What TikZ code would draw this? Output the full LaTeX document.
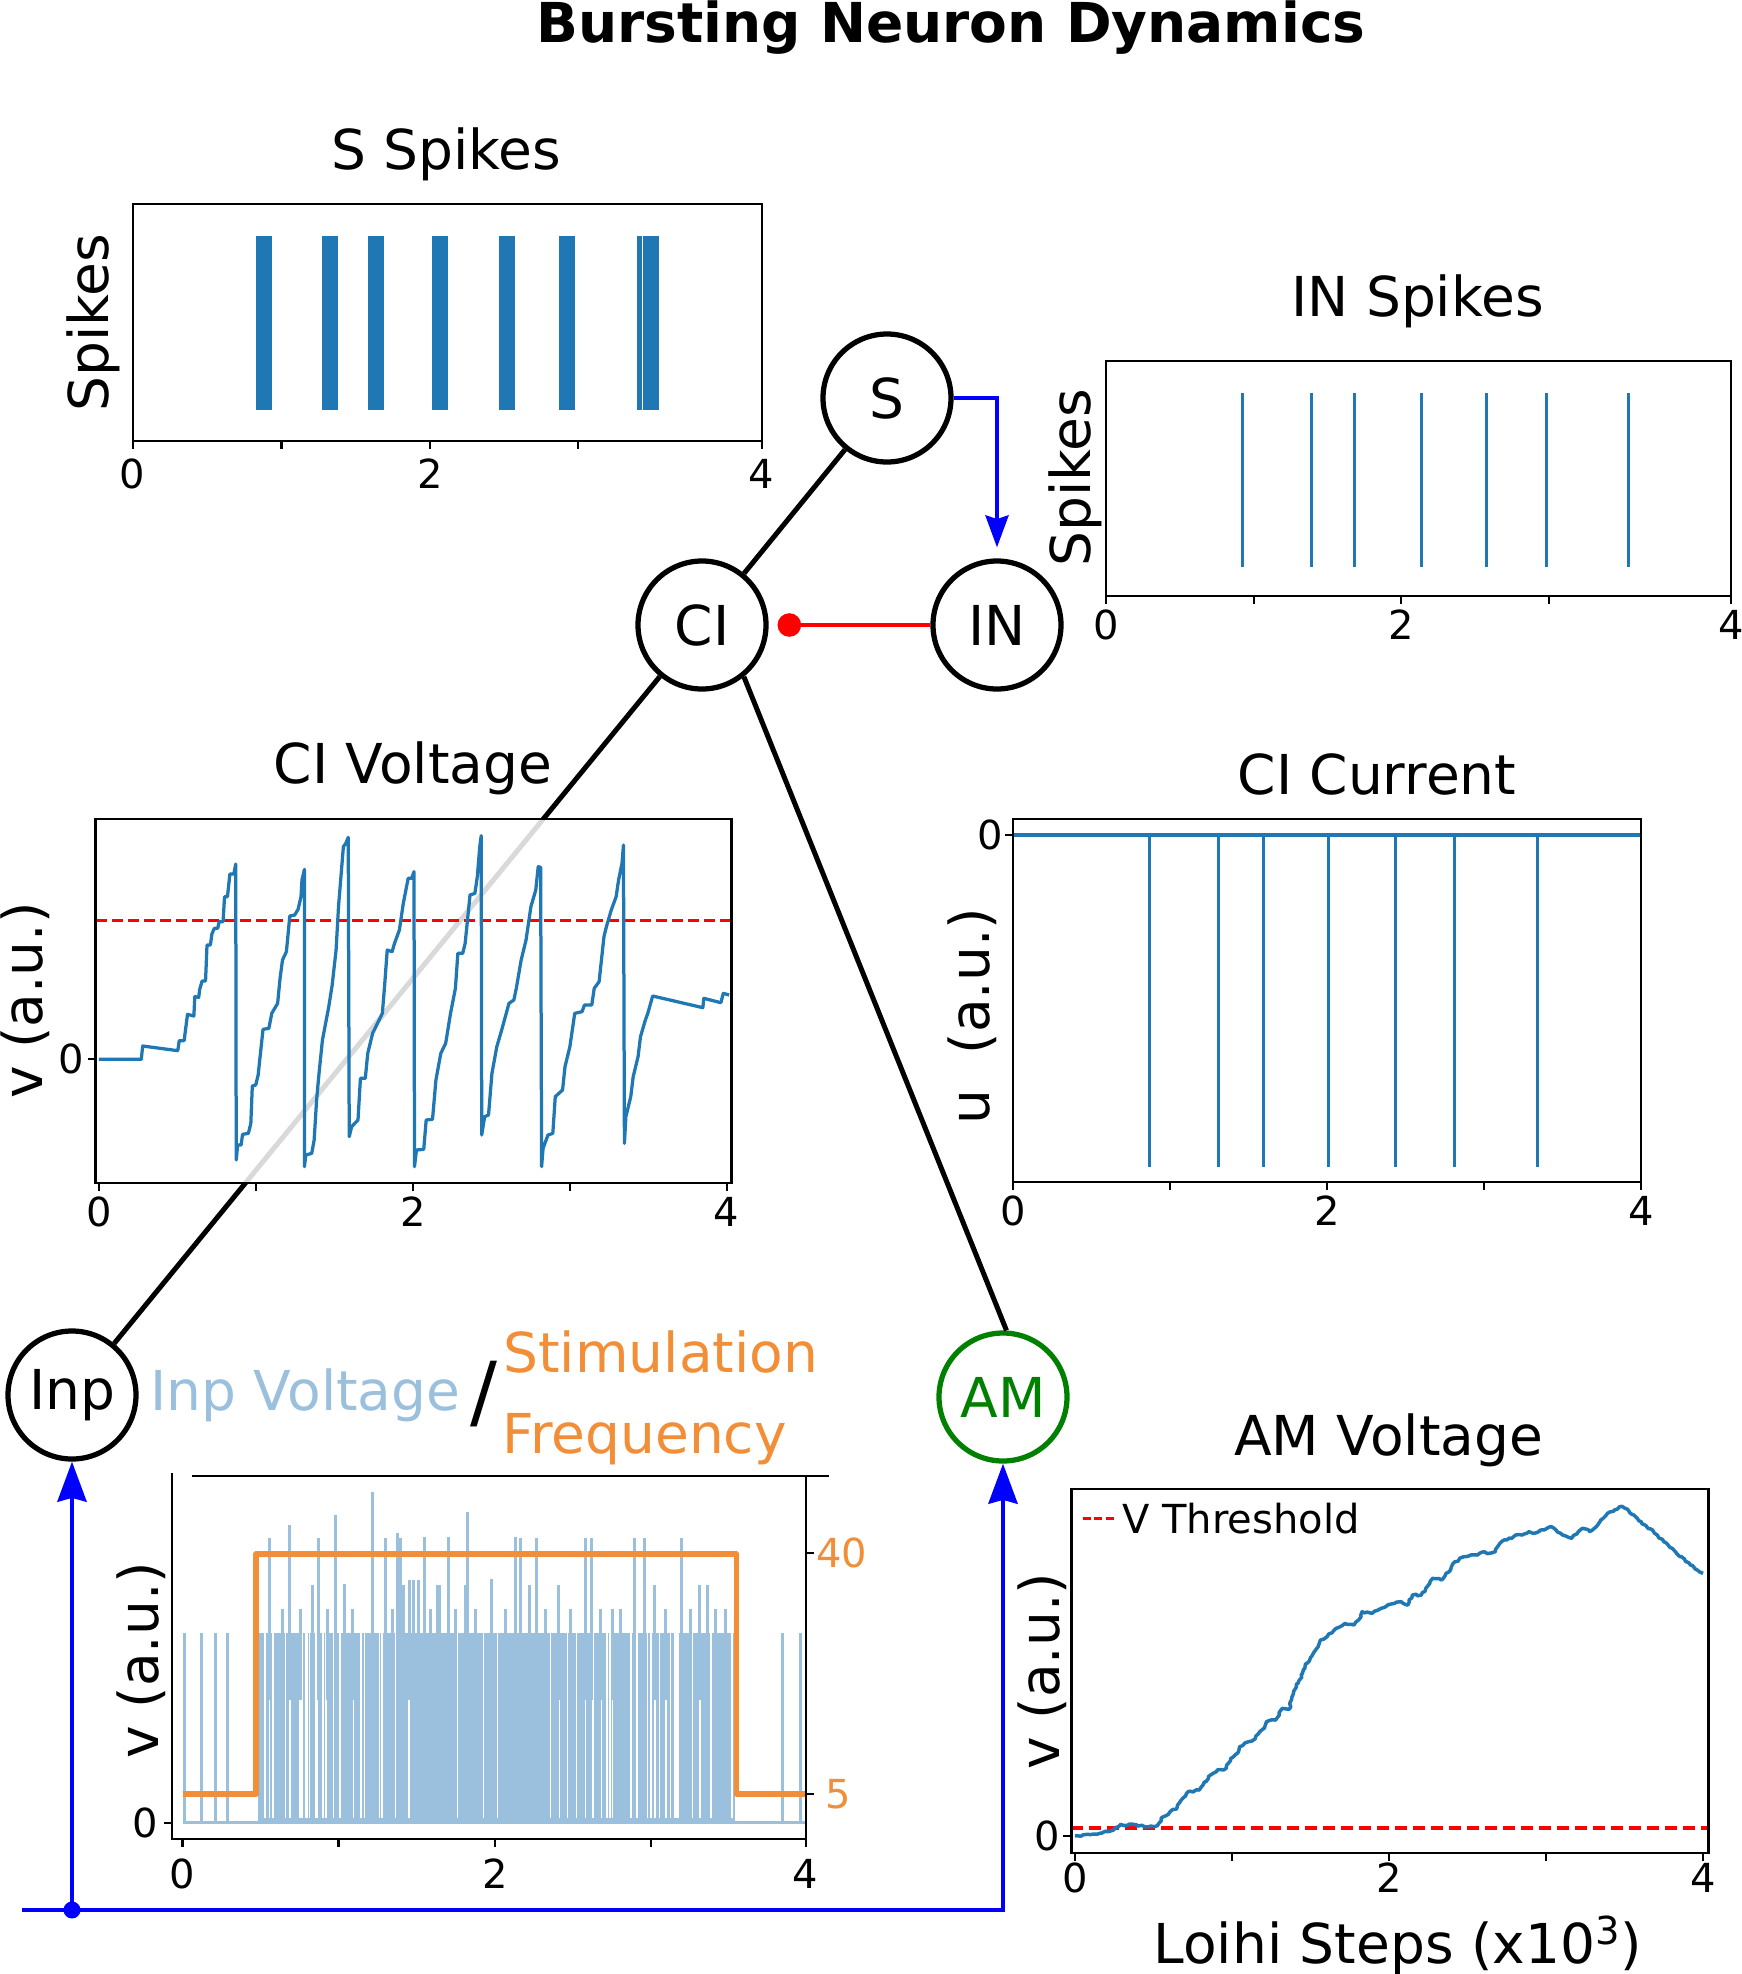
\documentclass[tikz,border=0pt]{standalone}
\usepackage{fontspec}
\setmainfont{DejaVu Sans}
\usetikzlibrary{arrows.meta,decorations.pathmorphing}
\definecolor{tabblue}{RGB}{31,119,180}
\definecolor{lightblue}{RGB}{154,192,221}
\definecolor{taborange}{RGB}{242,142,55}
\definecolor{amgreen}{RGB}{0,128,0}
\begin{document}
\begin{tikzpicture}[x=0.4pt,y=-0.4pt,
  neuron/.style={circle,draw,line width=2.1pt,fill=white,minimum size=51.2pt,inner sep=0pt,font=\fontsize{22}{26}\selectfont},
  spine/.style={line width=0.9pt},
  tickmark/.style={line width=0.9pt},
  ticklab/.style={font=\fontsize{16}{19}\selectfont,inner sep=0pt,anchor=base},
  ytlab/.style={font=\fontsize{16}{19}\selectfont,inner sep=0pt,anchor=east},
  ylab/.style={font=\fontsize{22}{26}\selectfont,rotate=90,inner sep=0pt,anchor=base},
  ptitle/.style={font=\fontsize{22}{26}\selectfont,inner sep=0pt,anchor=base},
  trace/.style={tabblue,line width=1.3pt,line join=round},
  wire/.style={line width=2pt},
  bluewire/.style={blue,line width=1.8pt},
  thresh/.style={red,line width=1.3pt,dash pattern=on 4.4pt off 2pt},
  bgpatch/.style={fill=white,fill opacity=0.85}
]
\useasboundingbox (0,0) rectangle (1741,1974);
\clip (0,0) rectangle (1741,1974);

% ---------- title
\node[font=\bfseries\fontsize{22}{26}\selectfont,inner sep=0pt,anchor=base] (title) at (951,42) {Bursting Neuron Dynamics};

% ---------- neurons
\node[neuron] (S) at (887,398) {S};
\node[neuron] (CI) at (702,625) {CI};
\node[neuron] (IN) at (997,625) {IN};
\node[neuron] (Inp) at (72,1395) {Inp};
\node[neuron,draw=amgreen,text=amgreen] (AM) at (1003,1397) {AM};

% ---------- connectors
\draw[wire] (S) -- (CI);
\draw[wire] (CI) -- (Inp);
\draw[wire] (CI.-51) -- (AM.87);
\draw[blue,line width=1.6pt,-{Stealth[length=12.8pt,width=9.2pt,inset=1.5pt]},shorten >=4.4pt] (S.east) -| (IN.north);
\draw[red,line width=1.9pt,-{Circle[length=9.4pt]},shorten >=3.6pt] (IN.west) -- (CI.east);
\coordinate (src) at (22,1910);
\coordinate (jn) at (72,1910);
\draw[bluewire,-{Stealth[length=16pt,width=11.6pt,inset=1.5pt]}] (src) -| (AM.south);
\draw[bluewire,-{Stealth[length=16pt,width=11.6pt,inset=1.5pt]}] (jn) -- (Inp.south);
\fill[blue] (jn) circle (3.4pt);

% ================= S Spikes
\node[ptitle] (tS) at (446,169) {S Spikes};
\node[ylab] (ylS) at (108.8,322.5) {Spikes};
\foreach \c in {263.5,330.3,375.5,440,507,566.5,650.5}
  \fill[tabblue] (\c-8,236) rectangle (\c+8,410);
\fill[tabblue] (637,236) rectangle (642,410);
\draw[spine] (132.7,204) rectangle (761.7,441);
\foreach \x in {132.7,281.6,430,578,761.7} \draw[tickmark] (\x,441) -- (\x,449);
\foreach \x/\l in {132.7/0,430/2,761.7/4} \node[ticklab] (sx\l) at (\x,488.5) {\l};

% ================= IN Spikes
\node[ptitle] (tIN) at (1417.5,316) {IN Spikes};
\node[ylab] (ylIN) at (1090.7,478) {Spikes};
\foreach \c in {1242,1311,1354,1421,1486,1546,1628}
  \draw[tabblue,line width=1.2pt] (\c,393) -- (\c,566.5);
\draw[spine] (1105.8,361) rectangle (1731.3,596);
\foreach \x in {1105.8,1254,1401.3,1548.7,1731.3} \draw[tickmark] (\x,596) -- (\x,604);
\foreach \x/\l in {1105.8/0,1401.3/2,1731.3/4} \node[ticklab] (ix\l) at (\x,639.5) {\l};

% ================= CI Voltage
\node[ptitle] (tCV) at (413,783) {CI Voltage};
\node[ylab] (ylCV) at (42.9,1000.5) {v (a.u.)};
\fill[bgpatch] (95.5,819.3) rectangle (731.6,1182.7);
\draw[thresh] (95.5,920.3) -- (731.6,920.3);
\begin{scope}[shift={(0,780)},x=0.19483pt,y=-0.133333pt]
\draw[trace] plot coordinates {(203,838) (290,838) (293,798) (365,812) (368,782) (378,782) (385,703) (398,708) (400,650) (408,652) (410,628) (415,603) (422,603) (425,495) (432,495) (435,462) (440,445) (447,445) (450,425) (458,425) (461,350) (467,350) (472,282) (480,282) (484,252) (485,1140)
(488,1095) (495,1095) (498,1063) (510,1060) (515,1030) (518,918) (525,915) (530,885) (540,748) (552,745) (558,700) (570,670) (575,595) (580,540) (588,515) (595,408) (605,405) (612,388) (618,350) (620,300) (625,268) (625,1160)
(628,1125) (640,1120) (645,1080) (650,960) (655,880) (662,780) (675,680) (682,615) (690,510) (695,380) (705,200) (710,190) (715,172) (717,1070)
(722,1040) (735,1020) (740,895) (750,895) (755,820) (765,760) (775,730) (785,700) (790,610) (795,510) (805,515) (810,490) (820,450) (828,370) (838,295) (845,295) (850,275) (851,1160)
(855,1110) (870,1108) (875,1020) (888,1018) (895,900) (905,820) (915,790) (925,700) (935,625) (940,520) (950,520) (955,490) (965,345) (975,340) (980,290) (985,200) (988,167) (989,1065)
(995,1010) (1003,1005) (1010,880) (1020,800) (1030,750) (1045,670) (1055,660) (1060,625) (1070,540) (1080,480) (1090,380) (1100,330) (1105,260) (1110,262) (1112,1160)
(1115,1105) (1125,1065) (1135,1060) (1140,950) (1155,930) (1160,860) (1170,800) (1180,700) (1195,695) (1200,675) (1215,675) (1220,625) (1230,605) (1240,470) (1245,440) (1255,390) (1265,350) (1270,300) (1277,250) (1280,195) (1282,1090)
(1285,1010) (1295,950) (1300,890) (1310,830) (1315,770) (1325,720) (1330,700) (1340,648) (1443,683) (1445,655) (1480,668) (1485,640) (1497,645)};
\end{scope}
\draw[spine] (95.5,819.3) rectangle (731.6,1182.7);
\foreach \x in {98.9,255.7,413,570,726.7} \draw[tickmark] (\x,1182.7) -- (\x,1190.7);
\foreach \x/\l in {98.9/0,413/2,726.7/4} \node[ticklab] (cvx\l) at (\x,1226) {\l};
\draw[tickmark] (95.5,1059.3) -- (87.5,1059.3);
\node[ytlab] (cvy0) at (84,1059.3) {0};

% ================= CI Current
\node[ptitle] (tCC) at (1377,794) {CI Current};
\node[ylab] (ylCC) at (989,1016) {u~~(a.u.)};
\foreach \c in {1149.9,1218,1263.4,1328.6,1395.4,1454.8,1537.6}
  \draw[tabblue,line width=1.2pt] (\c,835.3) -- (\c,1166.7);
\draw[tabblue,line width=1.5pt] (1013,835.3) -- (1641,835.3);
\draw[spine] (1013,819) rectangle (1641,1182.3);
\foreach \x in {1013,1170.3,1327.2,1484,1641} \draw[tickmark] (\x,1182.3) -- (\x,1190.3);
\foreach \x/\l in {1013/0,1327.2/2,1641/4} \node[ticklab] (ccx\l) at (\x,1225) {\l};
\draw[tickmark] (1013,835.3) -- (1005,835.3);
\node[ytlab] (ccy0) at (1003.7,835.3) {0};

% ================= Inp Voltage / Stimulation Frequency
\node[font=\fontsize{22}{26}\selectfont,text=lightblue,inner sep=0pt,anchor=base west] (tInp) at (150,1410) {Inp Voltage};
\node[font=\fontsize{32}{36}\selectfont,inner sep=0pt,anchor=base] (slash) at (484,1419) {/};
\node[font=\fontsize{22}{26}\selectfont,text=taborange,inner sep=0pt,anchor=base west] (tStim) at (503,1372) {Stimulation};
\node[font=\fontsize{22}{26}\selectfont,text=taborange,inner sep=0pt,anchor=base west] (tFreq) at (502,1453) {Frequency};
\node[ylab] (ylInp) at (158.5,1660) {v (a.u.)};
% blue trace
\draw[lightblue,line width=1.4pt] (183,1822.7) -- (806,1822.7);
\fill[lightblue] (258,1633) rectangle (735,1822);
\pgfmathsetseed{4242}
\foreach \i in {1,...,32}{
  \pgfmathsetmacro{\gx}{262+133*rnd}
  \pgfmathsetmacro{\gw}{0.25+0.6*rnd}
  \draw[white,line width=\gw pt] (\gx,1631) -- (\gx,1818);
}
\foreach \i in {1,...,8}{
  \pgfmathsetmacro{\gx}{395+181*rnd}
  \pgfmathsetmacro{\gw}{0.25+0.35*rnd}
  \draw[white,line width=\gw pt] (\gx,1631) -- (\gx,1818);
}
\foreach \i in {1,...,24}{
  \pgfmathsetmacro{\gx}{576+157*rnd}
  \pgfmathsetmacro{\gw}{0.25+0.6*rnd}
  \draw[white,line width=\gw pt] (\gx,1631) -- (\gx,1818);
}
\foreach \x in {184,201,215,227,782,800}
  \draw[lightblue,line width=1.2pt] (\x,1822.7) -- (\x,1633);
\foreach \x/\t in {269/1538,289/1525,312/1585,318/1538,335/1515,344/1584,372/1492,385/1538,397/1533,400/1538,403/1585,409/1580,413/1580,418/1580,424/1537,437/1585,439/1585,448/1537,465/1585,467/1512,491/1579,515/1537,520/1538,529/1585,536/1538,558/1585,585/1538,591/1538,634/1538,644/1538,654/1585,681/1538,699/1585,707/1585,300/1609,352/1609,392/1609,430/1609,455/1609,475/1609,505/1609,545/1609,570/1609,600/1609,620/1609,665/1609,690/1609,715/1609,725/1609,282/1609,327/1609,612/1609}
  \draw[lightblue,line width=1.2pt] (\x,1700) -- (\x,\t);
% orange step
\draw[taborange,line width=2.2pt,line join=round] (183.4,1794) -- (256.2,1794) -- (256.2,1554) -- (736.3,1554) -- (736.3,1794) -- (804.8,1794);
% axes
\draw[spine] (172.3,1473) -- (172.3,1839.3) -- (806,1839.3) -- (806,1475.7);
\draw[spine] (192.4,1475.7) -- (828.6,1475.7);
\foreach \x in {182.5,338.6,494.8,650.9,805.7} \draw[tickmark] (\x,1839.3) -- (\x,1847.3);
\foreach \x/\l in {182.5/0,494.8/2,805.7/4} \node[ticklab] (ipx\l) at (\x,1888) {\l};
\draw[tickmark] (172.3,1822.7) -- (164.3,1822.7);
\node[ytlab] (ipy0) at (158.7,1822.7) {0};
\draw[tickmark] (806,1552.7) -- (814,1552.7);
\draw[tickmark] (806,1794) -- (814,1794);
\node[font=\fontsize{16}{19}\selectfont,text=taborange,inner sep=0pt,anchor=west] (ipr40) at (816,1552.7) {40};
\node[font=\fontsize{16}{19}\selectfont,text=taborange,inner sep=0pt,anchor=west] (ipr5) at (825,1794) {5};

% ================= AM Voltage
\node[ptitle] (tAM) at (1388.6,1455) {AM Voltage};
\node[ylab] (ylAM) at (1059,1671) {v (a.u.)};
\draw[red,line width=1.3pt,dash pattern=on 4.8pt off 2.4pt] (1071.4,1828) -- (1708.5,1828);
\begin{scope}[shift={(1040,1460)},x=0.17945pt,y=-0.133333pt]
\draw[trace,line width=1.4pt,decorate,decoration={random steps,segment length=1.2pt,amplitude=0.45pt}] plot coordinates {(78,1127) (120,1122) (150,1115) (175,1100) (180,1093) (255,1100) (265,1090) (275,1070) (290,1055) (305,1045) (318,1015) (330,995) (355,990) (370,965) (380,945) (395,930) (415,925) (425,895) (440,880) (445,860) (465,845) (480,835) (490,815) (500,805) (505,785) (525,780) (540,745) (555,748) (565,700) (575,670) (585,640) (595,610) (610,578) (620,560) (625,540) (640,530) (660,505) (680,490) (700,495) (710,480) (718,455) (740,460) (760,445) (775,435) (790,430) (805,425) (820,435) (830,405) (850,405) (860,385) (875,355) (895,360) (905,340) (915,330) (925,305) (945,290) (960,285) (975,285) (990,275) (1000,280) (1015,275) (1025,250) (1040,240) (1060,225) (1075,225) (1090,215) (1100,220) (1115,210) (1130,205) (1140,200) (1150,210) (1165,225) (1185,235) (1200,215) (1210,205) (1225,215) (1240,200) (1250,180) (1265,160) (1280,150) (1292,140) (1310,148) (1340,185) (1370,220) (1400,255) (1420,282) (1430,290) (1450,315) (1465,330) (1478,340)};
\end{scope}
\draw[spine] (1071.4,1489.3) rectangle (1708.5,1852.7);
\foreach \x in {1075,1232,1389,1546,1703} \draw[tickmark] (\x,1852.7) -- (\x,1860.7);
\foreach \x/\l in {1075/0,1389/2,1703/4} \node[ticklab] (amx\l) at (\x,1892) {\l};
\draw[tickmark] (1071.4,1835.7) -- (1063.4,1835.7);
\node[ytlab] (amy0) at (1060,1835.7) {0};
\draw[red,line width=1.3pt,dash pattern=on 3.2pt off 1.4pt] (1082.6,1518.3) -- (1114,1518.3);
\node[font=\fontsize{16}{19}\selectfont,inner sep=0pt,anchor=base west] (leg) at (1122,1533.3) {V Threshold};
\node[font=\fontsize{22}{26}\selectfont,inner sep=0pt,anchor=base] (xlab) at (1398,1963) {Loihi Steps (x10\textsuperscript{3})};
\end{tikzpicture}
\end{document}
